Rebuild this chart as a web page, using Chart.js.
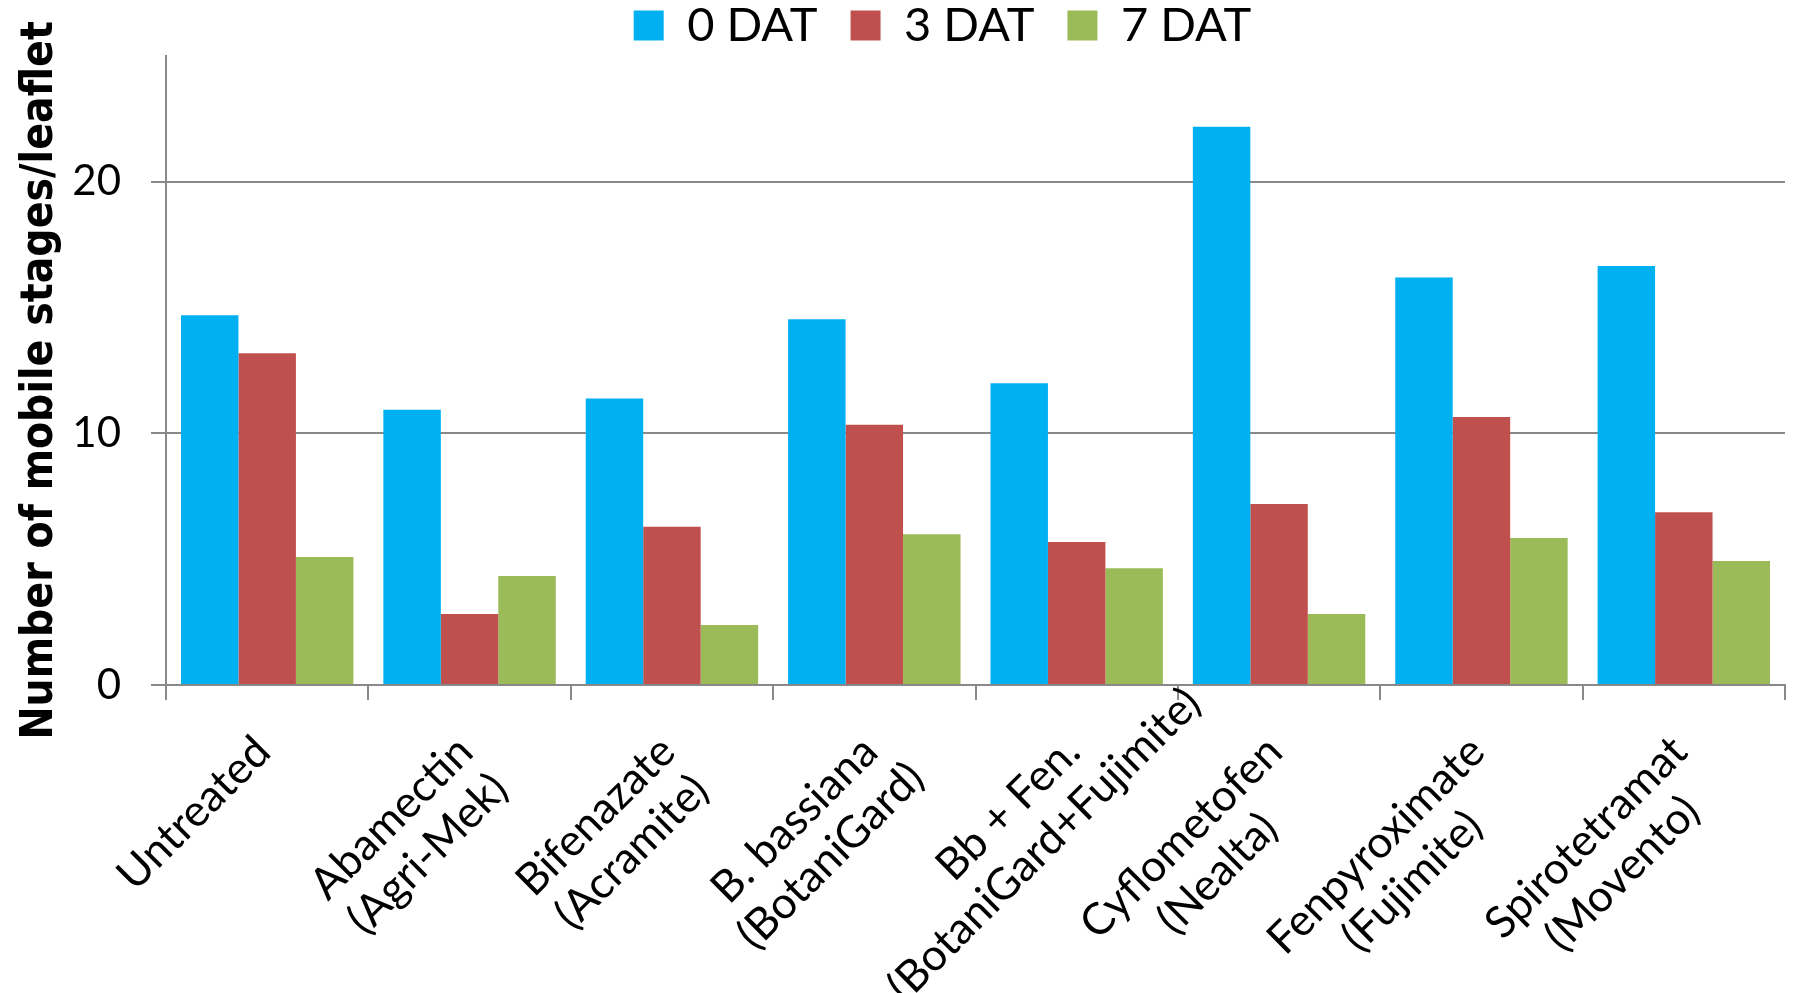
<!DOCTYPE html>
<html>
<head>
<meta charset="utf-8">
<script src="https://cdn.jsdelivr.net/npm/chart.js@4.4.1/dist/chart.umd.min.js"></script>
<style>
  html, body { margin: 0; padding: 0; background: #ffffff; }
  #wrap { width: 1796px; height: 993px; position: relative; }
  canvas { display: block; }
</style>
</head>
<body>
<div id="wrap"><canvas id="c" width="1796" height="993"></canvas></div>
<script>
// ---- data ----
const categories = [
  ['Untreated'],
  ['Abamectin', '(Agri-Mek)'],
  ['Bifenazate', '(Acramite)'],
  ['B. bassiana', '(BotaniGard)'],
  ['Bb + Fen.', '(BotaniGard+Fujimite)'],
  ['Cyflometofen', '(Nealta)'],
  ['Fenpyroximate', '(Fujimite)'],
  ['Spirotetramat', '(Movento)']
];
const seriesNames = ['0 DAT', '3 DAT', '7 DAT'];
const dat0 = [14.70, 10.94, 11.39, 14.54, 11.99, 22.19, 16.20, 16.65];
const dat3 = [13.19, 2.82, 6.29, 10.34, 5.68, 7.19, 10.65, 6.87];
const dat7 = [5.09, 4.33, 2.38, 5.99, 4.64, 2.82, 5.84, 4.93];
const yTickValues = [0, 10, 20];
const yAxisMax = 25;
const yTitle = 'Number of mobile stages/leaflet';

// ---- styles ----
const colors = ['#00B0F0', '#C0504D', '#9BBB59'];
const gray = '#898989';
const labelFontPx = 44;

const rotatedLabels = {
  id: 'rotatedLabels',
  afterDraw(chart) {
    const { ctx } = chart;
    const xs = chart.scales.x;
    const c = Math.SQRT1_2;
    ctx.save();
    ctx.font = labelFontPx + 'px Lato';
    ctx.fillStyle = '#000';
    ctx.textAlign = 'center';
    ctx.textBaseline = 'middle';
    categories.forEach((lines, i) => {
      const px = xs.getPixelForTick(i);
      const py = xs.top;
      const w0 = ctx.measureText(lines[0]).width;
      const uc = -45 - w0 / 2;
      lines.forEach((ln, j) => {
        const v = 39 + j * 51;
        const sx = px + uc * c + v * c;
        const sy = py - uc * c + v * c;
        ctx.save();
        ctx.translate(sx, sy);
        ctx.rotate(-Math.PI / 4);
        ctx.fillText(ln, 0, 0);
        ctx.restore();
      });
    });
    ctx.restore();
  }
};

const legendShift = {
  id: 'legendShift',
  afterLayout(chart) {
    const lg = chart.legend;
    if (!lg) return;
    lg.left += 50; lg.right += 50;
    lg.top -= 31;
  }
};

new Chart(document.getElementById('c'), {
  type: 'bar',
  data: {
    labels: categories,
    datasets: [
      { label: seriesNames[0], data: dat0, backgroundColor: colors[0] },
      { label: seriesNames[1], data: dat3, backgroundColor: colors[1] },
      { label: seriesNames[2], data: dat7, backgroundColor: colors[2] }
    ]
  },
  options: {
    responsive: false,
    animation: false,
    devicePixelRatio: 1,
    layout: { padding: { left: 0, right: 11, top: 0, bottom: 293 } },
    datasets: { bar: { categoryPercentage: 0.852, barPercentage: 1.0, borderWidth: 0 } },
    plugins: {
      tooltip: { enabled: false },
      legend: {
        position: 'top',
        align: 'center',
        maxHeight: 56,
        labels: {
          boxWidth: 30,
          boxHeight: 30,
          padding: 33,
          color: '#000',
          font: { family: 'Lato', size: 47 }
        }
      }
    },
    scales: {
      x: {
        type: 'category',
        offset: true,
        border: { display: true, color: gray, width: 2 },
        grid: {
          offset: true,
          drawOnChartArea: false,
          drawTicks: true,
          tickLength: 15,
          color: gray,
          lineWidth: 2
        },
        ticks: { display: false }
      },
      y: {
        min: 0,
        max: yAxisMax,
        afterFit(scale) { scale.width = 166; },
        border: { display: true, color: gray, width: 2 },
        grid: {
          drawTicks: true,
          tickLength: 15,
          lineWidth: 2,
          color: (ctx) => (ctx.tick && yTickValues.includes(ctx.tick.value)) ? gray : 'rgba(0,0,0,0)'
        },
        ticks: {
          stepSize: 10,
          padding: 30,
          color: '#000',
          font: { family: 'Lato', size: 42 },
          callback: (v) => yTickValues.includes(v) ? String(v) : ''
        },
        title: {
          display: true,
          text: yTitle + '\u2002',
          color: '#000',
          font: { family: 'DejaVu Sans Condensed', size: 44, weight: 'bold' },
          padding: { top: 14, bottom: 0 }
        }
      }
    }
  },
  plugins: [rotatedLabels, legendShift]
});
</script>
</body>
</html>
